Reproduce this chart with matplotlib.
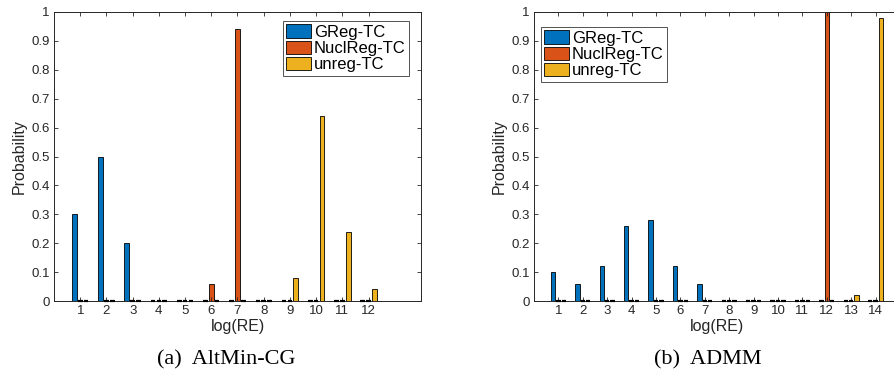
import matplotlib.pyplot as plt
import numpy as np

plt.rcParams["font.family"] = ["Liberation Sans", "DejaVu Sans"]

series = ["GReg-TC", "NuclReg-TC", "unreg-TC"]
colors = ["#0072BD", "#D95319", "#EDB120"]

# AltMin-CG: probability per log(RE) bin
altmin_bins = list(range(1, 13))
altmin_greg = [0.30, 0.50, 0.20, 0, 0, 0, 0, 0, 0, 0, 0, 0]
altmin_nucl = [0, 0, 0, 0, 0, 0.06, 0.94, 0, 0, 0, 0, 0]
altmin_unreg = [0, 0, 0, 0, 0, 0, 0, 0, 0.08, 0.64, 0.24, 0.04]

# ADMM
admm_bins = list(range(1, 15))
admm_greg = [0.10, 0.06, 0.12, 0.26, 0.28, 0.12, 0.06, 0, 0, 0, 0, 0, 0, 0]
admm_nucl = [0, 0, 0, 0, 0, 0, 0, 0, 0, 0, 0, 1.00, 0, 0]
admm_unreg = [0, 0, 0, 0, 0, 0, 0, 0, 0, 0, 0, 0, 0.02, 0.98]

W, H = 894, 383
fig = plt.figure(figsize=(W / 100, H / 100), dpi=100)

axc = "#262626"


def panel(rect, bins, values, xmax, legend_box, caption, cap_x):
    ax = fig.add_axes(rect)
    x = np.array(bins, dtype=float)
    offsets = [-0.222, 0.0, 0.222]
    width = 0.178
    handles = []
    for vals, off, col, name in zip(values, offsets, colors, series):
        vals = np.asarray(vals, dtype=float)
        h = ax.bar(x + off, vals, width=width, color=col, edgecolor="black",
                   linewidth=0.6, label=name)
        handles.append(h)
        # empty bins still show their bar outline on the baseline
        zero = vals == 0
        ax.hlines(vals[zero], x[zero] + off - width / 2, x[zero] + off + width / 2,
                  colors="black", linewidth=1.6, zorder=5, clip_on=False)
    ax.set_xlim(0, xmax)
    ax.set_ylim(0, 1)
    ax.set_xticks(bins)
    ax.set_yticks(np.round(np.arange(0, 1.01, 0.1), 1))
    ax.set_yticklabels(["0"] + [f"{v:.1f}" for v in np.arange(0.1, 0.95, 0.1)] + ["1"])
    ax.tick_params(direction="in", top=True, right=True, length=3, width=0.6,
                   colors=axc, labelsize=9.5, labelcolor=axc, pad=3)
    for s in ax.spines.values():
        s.set_color(axc)
        s.set_linewidth(0.7)
    ax.set_xlabel("log(RE)", fontsize=11.5, color=axc, labelpad=1)
    ax.set_ylabel("Probability", fontsize=11.5, color=axc, labelpad=3)
    leg = ax.legend(handles=handles, loc="upper left", bbox_to_anchor=legend_box,
                    fontsize=12, frameon=True, fancybox=False, borderpad=0.2,
                    handlelength=1.5, handleheight=0.85, handletextpad=0.15,
                    labelspacing=0.05, borderaxespad=0)
    leg.get_frame().set_edgecolor("#262626")
    leg.get_frame().set_linewidth(0.7)
    fig.text(cap_x / W, 1 - 360 / H, caption, ha="center", va="center",
             fontsize=16, family="Liberation Serif")
    return ax


def rect(x0, y0, x1, y1):
    return [x0 / W, 1 - y1 / H, (x1 - x0) / W, (y1 - y0) / H]


ax1 = panel(rect(54, 12, 421, 301), altmin_bins,
            [altmin_greg, altmin_nucl, altmin_unreg], 14,
            ((283 - 54) / 367, 1 - (21 - 12) / 289), "(a)  AltMin-CG", 226)
ax2 = panel(rect(534, 12, 900, 301), admm_bins,
            [admm_greg, admm_nucl, admm_unreg], 15,
            ((541 - 534) / 366, 1 - (27 - 12) / 289), "(b)  ADMM", 708)

fig.savefig("out.png", dpi=100)
